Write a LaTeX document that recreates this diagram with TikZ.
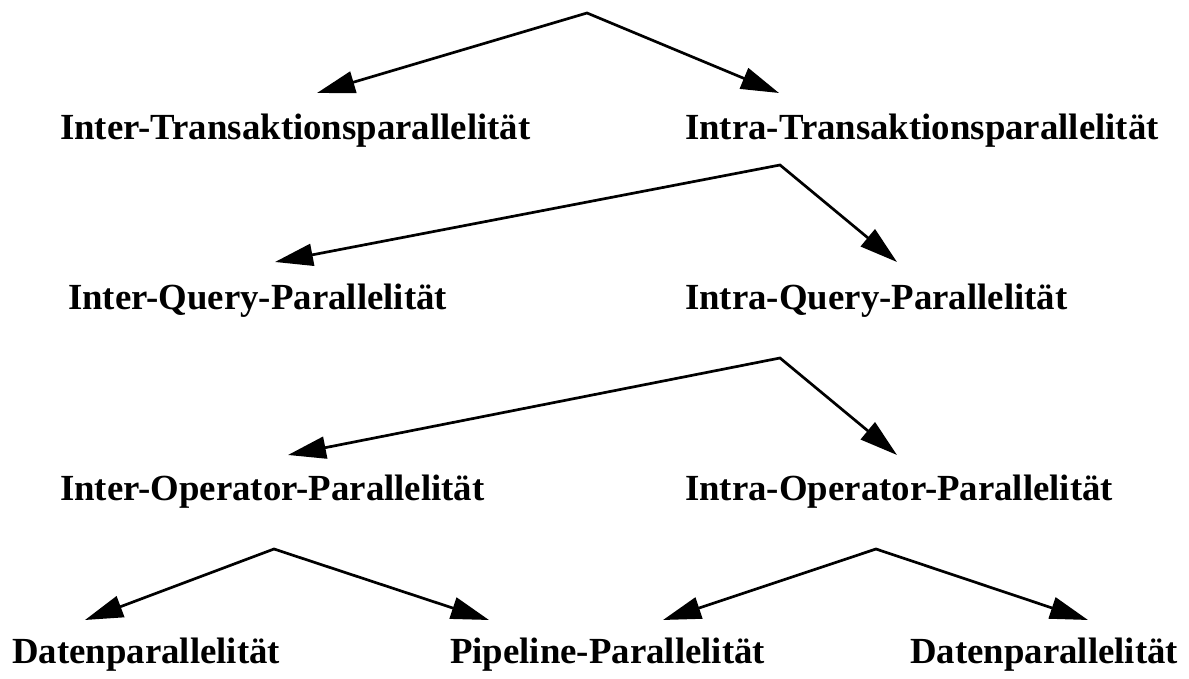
\documentclass[tikz,border=0pt]{standalone}
\usepackage{fontspec}
\setmainfont{Liberation Serif}
\usetikzlibrary{arrows.meta}
\newcommand\lblfont{\fontsize{36.8}{40}\selectfont\bfseries}
\begin{document}
\begin{tikzpicture}[x=1pt,y=-1pt,
  lbl/.style={anchor=base west, inner sep=0pt, font=\lblfont},
  fork/.style={{Triangle[length=38pt,width=22pt]}-{Triangle[length=38pt,width=22pt]},
    line width=2.7pt, line join=miter}]
\useasboundingbox (0,0) rectangle (1189,679);

% labels
\node[lbl] (interT) at (60,140) {Inter-Transaktionsparallelität};
\node[lbl] (intraT) at (685,140) {Intra-Transaktionsparallelität};
\node[lbl] (interQ) at (68,309) {Inter-Query-Parallelität};
\node[lbl] (intraQ) at (685,309) {Intra-Query-Parallelität};
\node[lbl] (interO) at (60,500) {Inter-Operator-Parallelität};
\node[lbl] (intraO) at (685,500) {Intra-Operator-Parallelität};
\node[lbl] (datenA) at (12,663) {Datenparallelität};
\node[lbl] (pipe) at (450,663) {Pipeline-Parallelität};
\node[lbl] (datenB) at (910,663) {Datenparallelität};

% branching points and arrow ends
\coordinate (v0) at (587,13);
\coordinate (t0a) at (317,93);
\coordinate (t0b) at (779,93);
\coordinate (v1) at (780,165);
\coordinate (t1a) at (275,262);
\coordinate (t1b) at (897,262);
\coordinate (v2) at (780,358);
\coordinate (t2a) at (288,455);
\coordinate (t2b) at (897,455);
\coordinate (v3) at (274,549);
\coordinate (t3a) at (85,620);
\coordinate (t3b) at (489,620);
\coordinate (v4) at (876,549);
\coordinate (t4a) at (663,620);
\coordinate (t4b) at (1088,620);

% connectors: each fork is one path so the apex gets a sharp join
\draw[fork] (t0a) -- (v0) -- (t0b);
\draw[fork] (t1a) -- (v1) -- (t1b);
\draw[fork] (t2a) -- (v2) -- (t2b);
\draw[fork] (t3a) -- (v3) -- (t3b);
\draw[fork] (t4a) -- (v4) -- (t4b);
\end{tikzpicture}
\end{document}
